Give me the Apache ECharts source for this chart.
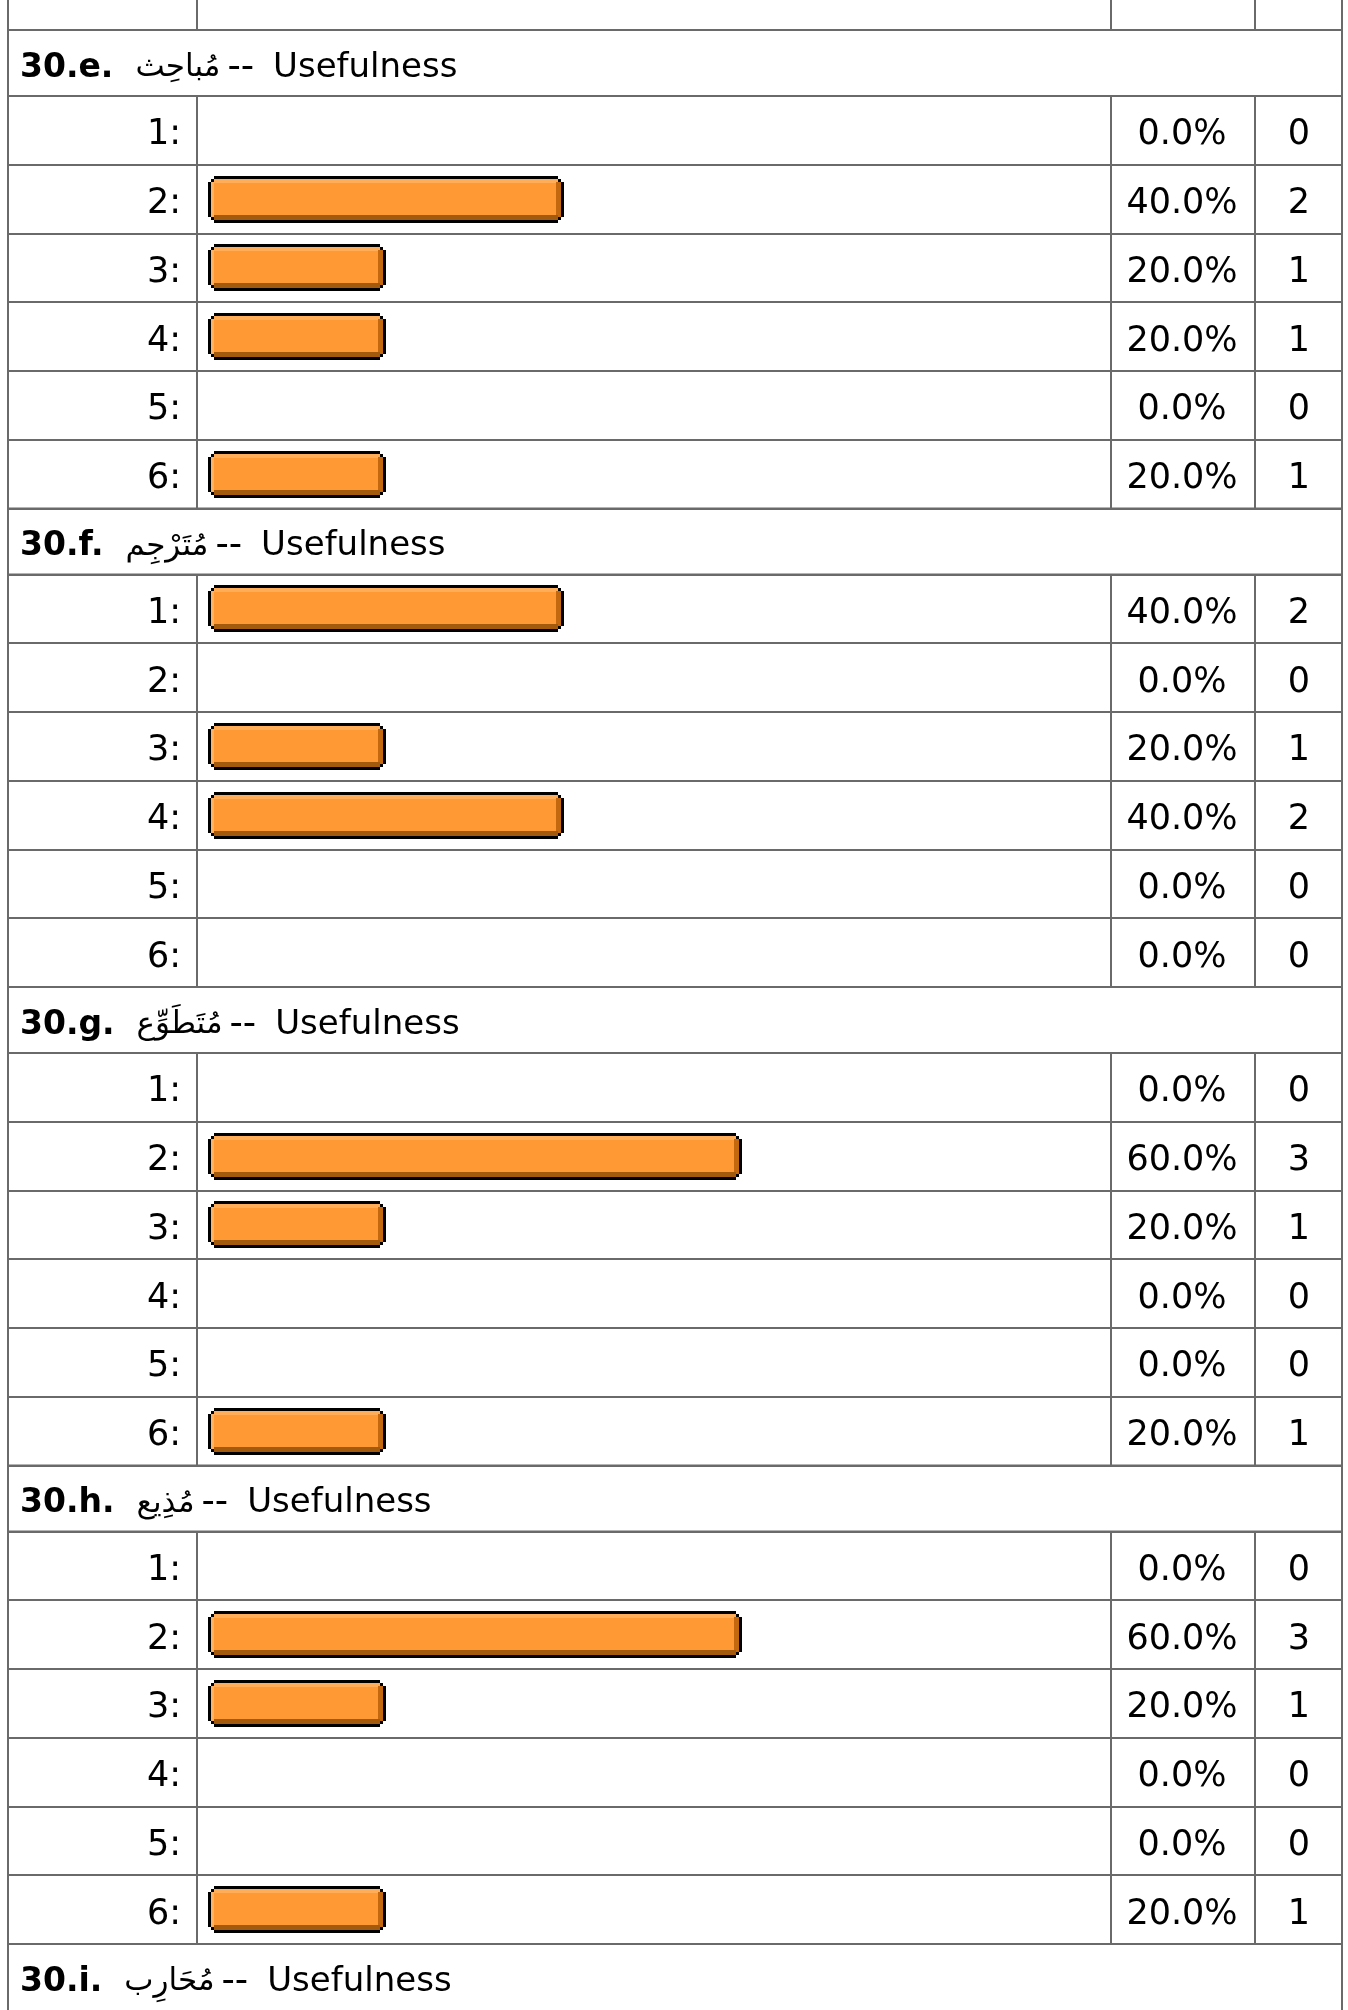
<!DOCTYPE html>
<html>
<head>
<meta charset="utf-8">
<script src="https://cdn.jsdelivr.net/npm/echarts@6/dist/echarts.min.js"></script>
<style>
html,body{margin:0;padding:0;background:#fff}
#chart{width:1348px;height:2010px}
</style>
</head>
<body>
<div id="chart"></div>
<script>
// ---------------- data ----------------
const sectionIds = ['30.e.', '30.f.', '30.g.', '30.h.', '30.i.'];
const sectionWords = ['مُباحِث', 'مُتَرْجِم', 'مُتَطَوِّع', 'مُذِيع', 'مُحَارِب'];
const sectionDash = '--';
const sectionSuffix = 'Usefulness';
const optionLabels = ['1:', '2:', '3:', '4:', '5:', '6:'];

const pctE = [0, 40, 20, 20, 0, 20];
const countE = [0, 2, 1, 1, 0, 1];
const pctF = [40, 0, 20, 40, 0, 0];
const countF = [2, 0, 1, 2, 0, 0];
const pctG = [0, 60, 20, 0, 0, 20];
const countG = [0, 3, 1, 0, 0, 1];
const pctH = [0, 60, 20, 0, 0, 20];
const countH = [0, 3, 1, 0, 0, 1];

const sectionPcts = [pctE, pctF, pctG, pctH];
const sectionCounts = [countE, countF, countG, countH];

// ---------------- layout / style ----------------
const L = { x0: 8, x1: 197, x2: 1111, x3: 1255, x4: 1342, top: 30, headH: 66, rowH: 68.75,
            barLeft: 208, barSpan: 890, barH: 47, textX: 20 };
const SECTION_H = L.headH + optionLabels.length * L.rowH;
const LINE = '#6a6a6a';
const FONT = 'DejaVu Sans, Verdana, sans-serif';
const C = { main: '#FF9933', hi: '#FFAD58', hiLeft: '#FFB262', right: '#C4680F', bottom: '#A35A0C', black: '#000' };

const chart = echarts.init(document.getElementById('chart'), null, { renderer: 'canvas' });

function frameItem(params, api) {
  const idx = api.value(1);
  const c = api.coord([0, idx]);
  const h = api.size([0, 1])[1];
  const t = Math.round(c[1] - h / 2), b = Math.round(c[1] + h / 2);
  const ls = { stroke: LINE, lineWidth: 2 };
  const children = [L.x0, L.x1, L.x2, L.x3, L.x4].map(x => ({
    type: 'line', shape: { x1: x, y1: t, x2: x, y2: b }, style: ls
  }));
  children.push({ type: 'line', shape: { x1: L.x0 - 1, y1: b, x2: L.x4 + 1, y2: b }, style: ls });
  if (idx === 0) children.push({ type: 'line', shape: { x1: L.x0 - 1, y1: t, x2: L.x4 + 1, y2: t }, style: ls });
  return { type: 'group', children };
}

function barItem(params, api) {
  const v = api.value(0), idx = api.value(1);
  if (!(v > 0)) return null;
  const p0 = api.coord([0, idx]), p1 = api.coord([v, idx]);
  const x0 = Math.round(p0[0]), x1 = Math.round(p1[0]);
  const h = L.barH;
  const y0 = Math.round(p0[1] - h / 2), y1 = y0 + h;
  const w = x1 - x0, s = 3;
  const r = (x, y, ww, hh, fill) => ({ type: 'rect', shape: { x, y, width: ww, height: hh }, style: { fill } });
  return {
    type: 'group',
    children: [
      r(x0 + 2 * s, y0, w - 4 * s, h, C.black),
      r(x0 + s, y0 + s, w - 2 * s, h - 2 * s, C.black),
      r(x0, y0 + 2 * s, w, h - 4 * s, C.black),
      r(x0 + 2 * s, y0 + s, w - 4 * s, h - 2 * s, C.main),
      r(x0 + s, y0 + 2 * s, w - 2 * s, h - 4 * s, C.main),
      r(x0 + 2 * s, y0 + s, w - 4 * s, 4, C.hi),
      r(x0 + s, y0 + 2 * s, 3, h - 4 * s, C.hiLeft),
      r(x1 - s - 5, y0 + 2 * s, 5, h - 4 * s, C.right),
      r(x0 + 2 * s, y1 - s - 5, w - 4 * s, 5, C.bottom),
      r(x1 - 2 * s - 5, y1 - s - 5, 5, 5, C.bottom)
    ]
  };
}

const grids = [], xAxes = [], yAxes = [], series = [];
const labelBase = { color: '#000', fontFamily: FONT, fontSize: 35, interval: 0,
                    verticalAlign: 'top', lineHeight: 10 };
sectionPcts.forEach((pcts, k) => {
  const counts = sectionCounts[k];
  grids.push({ left: L.barLeft, width: L.barSpan, top: L.top + k * SECTION_H + L.headH,
               height: optionLabels.length * L.rowH, outerBoundsMode: 'none', containLabel: false });
  xAxes.push({ gridIndex: k, type: 'value', min: 0, max: 100, show: false });
  const yBase = { gridIndex: k, type: 'category', data: optionLabels, inverse: true,
                  axisLine: { show: false }, axisTick: { show: false }, splitLine: { show: false } };
  yAxes.push(Object.assign({}, yBase, { position: 'left',
    axisLabel: Object.assign({}, labelBase, { margin: L.barLeft - 181, align: 'right' }) }));
  yAxes.push(Object.assign({}, yBase, { position: 'right', offset: 0,
    axisLabel: Object.assign({}, labelBase, { margin: 1182 - (L.barLeft + L.barSpan), align: 'center',
      formatter: (val, i) => pcts[i].toFixed(1) + '%' }) }));
  yAxes.push(Object.assign({}, yBase, { position: 'right', offset: 116,
    axisLabel: Object.assign({}, labelBase, { margin: 1299 - (L.barLeft + L.barSpan + 116), align: 'center',
      formatter: (val, i) => String(counts[i]) }) }));
  series.push({ type: 'custom', xAxisIndex: k, yAxisIndex: k * 3, renderItem: frameItem, clip: false,
                silent: true, z: 1, encode: { x: 0, y: 1 },
                data: optionLabels.map((_, i) => [0, i]) });
  series.push({ type: 'custom', xAxisIndex: k, yAxisIndex: k * 3, renderItem: barItem, clip: false,
                silent: true, z: 3, encode: { x: 0, y: 1 },
                data: pcts.map((p, i) => [p, i]) });
});

const graphics = [];
sectionIds.forEach((id, k) => {
  const top = L.top + k * SECTION_H;
  const last = k === sectionIds.length - 1;
  graphics.push({ type: 'rect', z: 0,
    shape: { x: L.x0, y: top, width: L.x4 - L.x0, height: last ? L.headH + 40 : L.headH },
    style: { fill: '#fff', stroke: LINE, lineWidth: 2 } });
  graphics.push({ type: 'text', z: 5, x: L.textX, y: top + L.headH / 2 + 5,
    style: {
      text: '{b|' + id + '}{a|' + sectionWords[k] + '}{d|' + sectionDash + '}{r|' + sectionSuffix + '}',
      fill: '#000', font: '32px ' + FONT, verticalAlign: 'middle', align: 'left',
      rich: {
        b: { fontFamily: FONT, fontWeight: 'bold', fontSize: 33, fill: '#000' },
        a: { fontFamily: FONT, fontSize: 31, fill: '#000', padding: [0, 0, 0, 22] },
        d: { fontFamily: FONT, fontSize: 37, fill: '#000', padding: [0, 0, 0, 7] },
        r: { fontFamily: FONT, fontSize: 34, fill: '#000', padding: [0, 0, 0, 19] }
      }
    } });
});
[L.x0, L.x1, L.x2, L.x3, L.x4].forEach(x => graphics.push({ type: 'line', z: 0,
  shape: { x1: x, y1: 0, x2: x, y2: L.top }, style: { stroke: LINE, lineWidth: 2 } }));

chart.setOption({
  animation: false,
  backgroundColor: '#fff',
  grid: grids,
  xAxis: xAxes,
  yAxis: yAxes,
  series: series,
  graphic: { elements: graphics }
});
</script>
</body>
</html>
